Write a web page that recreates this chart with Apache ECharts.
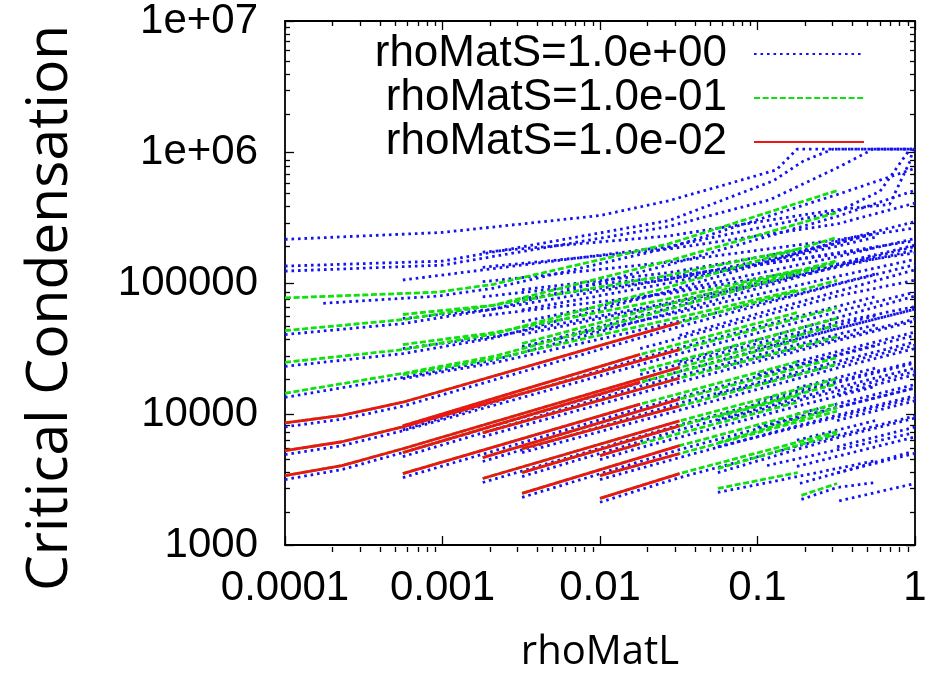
<!DOCTYPE html>
<html><head><meta charset="utf-8">
<script src="https://cdn.jsdelivr.net/npm/echarts@6/dist/echarts.min.js"></script>
<style>html,body{margin:0;padding:0;background:#fff}#c{width:940px;height:678px}</style>
</head><body><div id="c"></div>
<script>
const seriesNames = ['rhoMatS=1.0e+00', 'rhoMatS=1.0e-01', 'rhoMatS=1.0e-02'];
const xTickLabels = ['0.0001', '0.001', '0.01', '0.1', '1'];
const yTickLabels = ['1000', '10000', '100000', '1e+06', '1e+07'];
const xMinorTicks = [2e-4,3e-4,4e-4,5e-4,6e-4,7e-4,8e-4,9e-4,2e-3,3e-3,4e-3,5e-3,6e-3,7e-3,8e-3,9e-3,0.02,0.03,0.04,0.05,0.06,0.07,0.08,0.09,0.2,0.3,0.4,0.5,0.6,0.7,0.8,0.9];
const yMinorTicks = [2000,3000,4000,5000,6000,7000,8000,9000,20000,30000,40000,50000,60000,70000,80000,90000,200000,300000,400000,500000,600000,700000,800000,900000,2e6,3e6,4e6,5e6,6e6,7e6,8e6,9e6];

// rhoMatS = 1.0e+00 (blue, dotted)
const blueLines = [
  [[1e-4,215300],[1e-3,243200],[0.01,327300],[0.0275,425600],[0.076,602600],[0.132,731100],[0.178,1050000],[1,1050000]],
  [[1e-4,134600],[1e-3,146900],[0.0275,299900],[0.126,602600],[0.195,851000],[0.3,1050000],[1,1050000]],
  [[1e-4,123300],[1e-3,136800],[0.0275,270400],[0.12,432500],[0.32,756800],[0.54,1050000],[1,1050000]],
  [[5.6e-4,105400],[0.0275,190000],[0.32,350000],[0.6,501200],[0.89,977200],[0.93,1050000]],
  [[1.8e-3,171800],[0.0275,229000],[0.32,363000],[0.69,398000],[0.93,851000],[0.97,1050000]],
  [[1.8e-3,131800],[0.0275,182000],[0.32,282000],[1,407000]],
  [[1.8e-3,102300],[0.0275,144500],[0.32,213800],[1,263000]],
  [[1.8e-3,78500],[0.0275,112200],[0.32,166000],[0.56,186000]],
  [[1.8e-3,56200],[0.0275,83200],[0.32,138000],[1,170000]],
  [[3.2e-3,89100],[0.0275,120000],[0.32,200000],[0.56,240000]],
  [[3.2e-3,75900],[0.0275,107000],[0.32,170000],[1,210000]],
  [[3.2e-3,62400],[0.0275,100000],[0.32,190500],[0.56,224000]],
  [[3.2e-3,50700],[0.0275,85100],[0.32,158500],[1,218800]],
  [[3.2e-3,40400],[0.0275,69200],[0.32,131800],[1,177800]],
  [[3.2e-3,32700],[0.0275,57500],[0.32,112200],[1,151400]],
  [[1.75e-4,70000],[9.3e-4,79400],[2.1e-3,91200],[0.0275,186000],[0.32,473000],[1,750000]],
  [[1e-4,40400],[5.6e-4,49000],[2.1e-3,63100],[0.0275,138000],[0.32,322000],[1,510000]],
  [[1e-4,23100],[5.6e-4,28900],[2.1e-3,38000],[0.0275,87000],[0.32,208000],[1,294000]],
  [[1e-4,13400],[5.6e-4,19000],[2.1e-3,25700],[0.0275,58900],[0.32,134500],[1,190000]],
  [[5.6e-4,53600],[2.1e-3,63100],[0.0275,107100],[0.18,169000],[0.56,239000]],
  [[5.6e-4,31600],[2.1e-3,38900],[0.0275,70800],[0.18,116900],[0.56,165000]],
  [[5.6e-4,18600],[2.1e-3,24500],[0.0275,49000],[0.18,82600],[0.56,117000]],
  [[3.2e-3,32200],[0.0275,64600],[0.32,138000],[1,195000]],
  [[0.056,3570],[0.32,6580],[1,9300]],
  [[0.056,2520],[0.18,3330],[0.56,4400]],
  [[0.19,2230],[0.32,2750],[0.56,3000]],
  [[1e-4,7980],[2.3e-4,9120],[5.6e-4,11480],[0.032,46500],[0.32,97700],[1,138000]],
  [[1e-4,4900],[2.3e-4,5730],[5.6e-4,7450],[0.032,28900],[0.32,60300],[1,85200]],
  [[1e-4,3160],[2.3e-4,3770],[5.6e-4,5070],[0.032,21200],[0.32,44700],[1,63200]],
  [[5.6e-4,7570],[0.018,26600],[0.18,55600],[0.56,78600]],
  [[5.6e-4,4730],[0.018,16300],[0.18,33900],[0.56,47900]],
  [[5.6e-4,3270],[0.018,11100],[0.18,23400],[0.56,33100]],
  [[1.8e-3,6700],[0.032,17500],[0.32,36300],[1,51300]],
  [[1.8e-3,4340],[0.032,12100],[0.32,25100],[1,35500]],
  [[1.8e-3,3000],[0.032,8260],[0.32,17400],[1,24500]],
  [[3.2e-3,5070],[0.032,10700],[0.32,22400],[1,31600]],
  [[3.2e-3,3330],[0.032,7570],[0.32,15900],[1,22400]],
  [[3.2e-3,2310],[0.032,5350],[0.32,11200],[1,15800]],
  [[0.01,4490],[0.018,5530],[0.18,11500],[0.56,16200]],
  [[0.01,3160],[0.032,4650],[0.32,9800],[1,13800]],
  [[0.01,2120],[0.032,3270],[0.32,6840],[1,9660]],
  [[0.018,20000],[0.32,50100],[1,66000]],
  [[0.018,31600],[0.32,79400],[1,105000]],
  [[0.032,25100],[1,79400]],
  [[0.032,39800],[1,126000]],
  [[0.056,5620],[1,13300]],
  [[0.056,8910],[1,21100]],
  [[0.056,14100],[1,33500]],
  [[0.056,22400],[1,53100]],
  [[0.1,7940],[1,15800]],
  [[0.1,12600],[1,25100]],
  [[0.1,20000],[1,39800]],
  [[0.1,31600],[1,63100]],
  [[0.178,3980],[1,6680]],
  [[0.178,6310],[0.56,8910]],
  [[0.178,10000],[1,16800]],
  [[0.178,15850],[0.56,22400]],
  [[0.178,25100],[1,42200]],
  [[0.178,39800],[0.56,56200]],
  [[0.32,3550],[1,5010]],
  [[0.32,5620],[1,7940]],
  [[0.32,8910],[1,12600]],
  [[0.32,14100],[1,19950]],
  [[0.33,2170],[1,2950]],
  [[0.186,2950],[0.93,5100]],
  [[0.115,4040],[0.93,7080]]
];

// rhoMatS = 1.0e-01 (green, dashed)
const greenLines = [
  [[1e-4,76900],[9.3e-4,85100],[2.1e-3,97700],[0.0275,199500],[0.32,507000]],
  [[1e-4,43300],[5.6e-4,52500],[2.1e-3,67600],[0.0275,147900],[0.32,345000]],
  [[1e-4,24800],[5.6e-4,31000],[2.1e-3,40700],[0.0275,93300],[0.32,222800]],
  [[1e-4,14400],[5.6e-4,20400],[2.1e-3,27500],[0.0275,63100],[0.32,144200]],
  [[5.6e-4,57500],[2.1e-3,67600],[0.0275,114800],[0.18,181100]],
  [[5.6e-4,33900],[2.1e-3,41700],[0.0275,75900],[0.18,125300]],
  [[5.6e-4,19950],[2.1e-3,26300],[0.0275,52500],[0.18,88500]],
  [[3.2e-3,34500],[0.0275,69200],[0.32,147900]],
  [[0.056,3830],[0.32,7050]],
  [[0.056,2700],[0.18,3570]],
  [[0.19,2390],[0.32,2950]],
  [[1e-4,8550],[2.3e-4,9770],[5.6e-4,12300],[0.032,49800],[0.32,104700]],
  [[1e-4,5250],[2.3e-4,6140],[5.6e-4,7980],[0.032,31000],[0.32,64600]],
  [[1e-4,3390],[2.3e-4,4040],[5.6e-4,5430],[0.032,22700],[0.32,47900]],
  [[5.6e-4,8110],[0.018,28500],[0.18,59600]],
  [[5.6e-4,5070],[0.018,17500],[0.18,36300]],
  [[5.6e-4,3510],[0.018,11900],[0.18,25100]],
  [[1.8e-3,7180],[0.032,18750],[0.32,38900]],
  [[1.8e-3,4650],[0.032,13000],[0.32,26900]],
  [[1.8e-3,3220],[0.032,8850],[0.32,18600]],
  [[3.2e-3,5430],[0.032,11500],[0.32,24000]],
  [[3.2e-3,3570],[0.032,8110],[0.32,17000]],
  [[3.2e-3,2480],[0.032,5730],[0.32,12000]],
  [[0.01,4810],[0.018,5930],[0.18,12300]],
  [[0.01,3390],[0.032,4980],[0.32,10500]],
  [[0.01,2270],[0.032,3510],[0.32,7330]],
  [[0.018,21400],[0.32,53700]],
  [[0.056,6030],[0.32,11200]],
  [[0.056,9550],[0.18,13800]]
];

// rhoMatS = 1.0e-02 (red, solid)
const redLines = [
  [[1e-4,8550],[2.3e-4,9770],[5.6e-4,12300],[0.032,49800]],
  [[1e-4,5250],[2.3e-4,6140],[5.6e-4,7980],[0.032,31000]],
  [[1e-4,3390],[2.3e-4,4040],[5.6e-4,5430],[0.032,22700]],
  [[5.6e-4,8110],[0.018,28500]],
  [[5.6e-4,5070],[0.018,17500]],
  [[5.6e-4,3510],[0.018,11900]],
  [[1.8e-3,7180],[0.032,18750]],
  [[1.8e-3,4650],[0.032,13000]],
  [[1.8e-3,3220],[0.032,8850]],
  [[3.2e-3,5430],[0.032,11500]],
  [[3.2e-3,3570],[0.032,8110]],
  [[3.2e-3,2480],[0.032,5730]],
  [[0.01,4810],[0.018,5930]],
  [[0.01,3390],[0.032,4980]],
  [[0.01,2270],[0.032,3510]]
];

const FONT = "'Liberation Sans', Arial, Helvetica, sans-serif";
const styles = [
  { color: '#1414f0', width: 2.8, type: [2.6, 3.9], cap: 'butt' },
  { color: '#10e010', width: 2.8, type: [6, 2.6], cap: 'butt' },
  { color: '#ee1515', width: 2.8, type: 'solid', cap: 'butt' }
];
const groups = [blueLines, greenLines, redLines];

const series = [];
groups.forEach((lines, gi) => {
  lines.forEach(line => {
    series.push({
      name: seriesNames[gi], type: 'line', xAxisIndex: 0, yAxisIndex: 0,
      data: line, showSymbol: false, symbol: 'none', silent: true,
      lineStyle: styles[gi], itemStyle: { color: styles[gi].color }
    });
  });
});

const xIdx = v => Math.round(Math.log10(v)) + 4;
const yIdx = v => Math.round(Math.log10(v)) - 3;
const tickStyle = { color: '#000', width: 1.3 };
const lineStyle = { color: '#000', width: 1.8 };

function xAx(grid, pos, major, labels) {
  return {
    type: 'log', logBase: 10, min: 1e-4, max: 1, gridIndex: grid, position: pos,
    axisLine: { show: major, onZero: false, lineStyle: lineStyle },
    axisTick: major ? { show: true, inside: true, length: 9, lineStyle: tickStyle }
                    : { show: true, inside: true, length: 5, lineStyle: tickStyle, customValues: xMinorTicks },
    axisLabel: labels ? { show: true, margin: 22, fontSize: 42, fontFamily: FONT, color: '#000',
      formatter: v => xTickLabels[xIdx(v)] } : { show: false },
    splitLine: { show: false }, minorTick: { show: false }
  };
}
function yAx(grid, pos, major, labels) {
  return {
    type: 'log', logBase: 10, min: 1000, max: 1e7, gridIndex: grid, position: pos,
    axisLine: { show: major, onZero: false, lineStyle: lineStyle },
    axisTick: major ? { show: true, inside: true, length: 9, lineStyle: tickStyle }
                    : { show: true, inside: true, length: 5, lineStyle: tickStyle, customValues: yMinorTicks },
    axisLabel: labels ? { show: true, margin: 27, fontSize: 42, fontFamily: FONT, color: '#000',
      formatter: v => yTickLabels[yIdx(v)] } : { show: false },
    splitLine: { show: false }, minorTick: { show: false }
  };
}

const xa0 = xAx(0, 'bottom', true, true);
xa0.name = 'rhoMatL'; xa0.nameLocation = 'middle'; xa0.nameGap = 88;
xa0.nameTextStyle = { fontFamily: "'Open Sans', sans-serif", fontSize: 40, color: '#000' };
const ya0 = yAx(0, 'left', true, true);
ya0.name = 'Critical Condensation'; ya0.nameLocation = 'middle'; ya0.nameGap = 206;
ya0.nameTextStyle = { fontFamily: "'Open Sans', sans-serif", fontSize: 57, color: '#000', padding: [0, 50, 0, 0] };

const gridBox = { left: 285, right: 25, top: 21, bottom: 126, containLabel: false };
const option = {
  animation: false,
  backgroundColor: '#fff',
  grid: [Object.assign({}, gridBox), Object.assign({}, gridBox)],
  xAxis: [xa0, xAx(0, 'top', true, false), xAx(1, 'bottom', false, false), xAx(1, 'top', false, false)],
  yAxis: [ya0, yAx(0, 'right', true, false), yAx(1, 'left', false, false), yAx(1, 'right', false, false)],
  legend: {
    data: seriesNames, orient: 'vertical', align: 'right', right: 75, top: 32,
    itemWidth: 110, itemHeight: 14, itemGap: 0, padding: 0, selectedMode: false,
    itemStyle: { opacity: 0 },
    textStyle: { fontSize: 44, lineHeight: 42, fontFamily: FONT, color: '#000', padding: [0, 22, 0, 0] }
  },
  series: series
};
const chart = echarts.init(document.getElementById('c'), null, { renderer: 'canvas' });
chart.setOption(option);
</script></body></html>
